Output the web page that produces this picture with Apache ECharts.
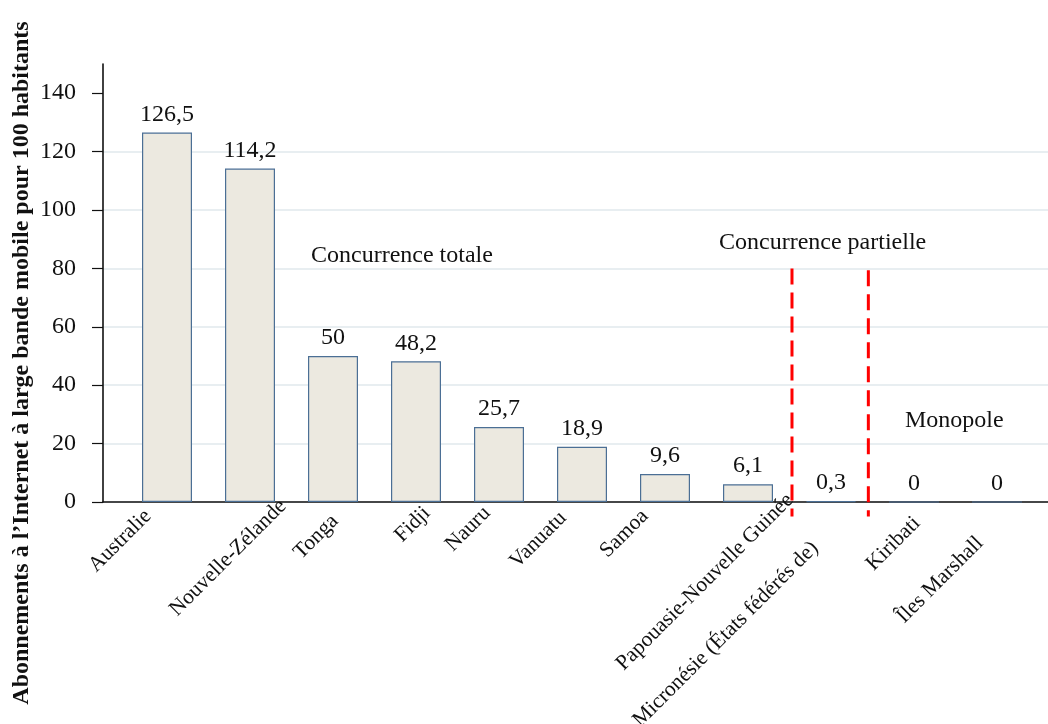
<!DOCTYPE html>
<html>
<head>
<meta charset="utf-8">
<script src="https://cdn.jsdelivr.net/npm/echarts@6/dist/echarts.min.js"></script>
<style>
html,body{margin:0;padding:0;background:#fff;}
#chart{width:1048px;height:724px;}
</style>
</head>
<body>
<div id="chart"></div>
<script>
// ---- data ----
var categories = ['Australie', 'Nouvelle-Zélande', 'Tonga', 'Fidji', 'Nauru', 'Vanuatu', 'Samoa',
  'Papouasie-Nouvelle Guinée', 'Micronésie (États fédérés de)', 'Kiribati', 'Îles Marshall'];
var values = [126.5, 114.2, 50, 48.2, 25.7, 18.9, 9.6, 6.1, 0.3, 0, 0];
var tickValues = [0, 20, 40, 60, 80, 100, 120, 140];
var dividerX = [8.03, 8.95];          // boundaries between market-structure groups (category units)
var dividerTop = [80, 79.4];
var dividerBottom = -5;
var yTitle = 'Abonnements à l’Internet à large bande mobile pour 100 habitants';
var groupNames = ['Concurrence totale', 'Concurrence partielle', 'Monopole'];

// ---- layout (label end shifts in screen px, relative to category centre on axis) ----
var labelShift = [[-19, 11], [33, 1], [2, 16], [11, 8], [-12, 8], [-19, 13], [-20, 11],
  [42, -5], [-16, 43], [3, 18], [-17, 38]];

var FONT = '"Liberation Serif", "Times New Roman", serif';
var chart = echarts.init(document.getElementById('chart'), null, {renderer: 'canvas'});

function fmt(v) { return String(v).replace('.', ','); }

var gridColor = '#e8eef1';
var splitColors = [gridColor, gridColor, gridColor, gridColor, gridColor, gridColor, gridColor,
  'rgba(0,0,0,0)', 'rgba(0,0,0,0)'];

var labelData = categories.map(function (c, i) {
  var dx = labelShift[i][0], dy = labelShift[i][1];
  var k = Math.SQRT1_2;
  return {
    value: [i, 0],
    label: {offset: [k * (dx - dy), k * (dx + dy)]}
  };
});

var option = {
  backgroundColor: '#ffffff',
  animation: false,
  grid: [
    {left: 103, right: 0, top: 64, height: 438, outerBoundsMode: 'none', containLabel: false},
    {left: 125.5, width: 913, top: 64, height: 438, outerBoundsMode: 'none', containLabel: false}
  ],
  xAxis: [
    {gridIndex: 0, type: 'value', min: 0, max: 1, axisLine: {show: true, onZero: false, lineStyle: {color: '#111', width: 1.6}},
      axisTick: {show: false}, axisLabel: {show: false}, splitLine: {show: false}},
    {gridIndex: 1, type: 'category', data: categories, boundaryGap: true,
      axisLine: {show: false}, axisTick: {show: false}, axisLabel: {show: false}, splitLine: {show: false}},
    {gridIndex: 1, type: 'value', min: 0, max: 11, show: false}
  ],
  yAxis: [
    {gridIndex: 0, type: 'value', min: 0, max: 150, interval: 20,
      axisLine: {show: true, lineStyle: {color: '#111', width: 1.6}},
      axisTick: {show: true, length: 11, customValues: tickValues, lineStyle: {color: '#111', width: 1.2}},
      axisLabel: {show: true, margin: 27, customValues: tickValues, color: '#111', fontFamily: FONT, fontSize: 24},
      splitLine: {show: true, lineStyle: {color: splitColors, width: 2}}},
    {gridIndex: 1, type: 'value', min: 0, max: 150, show: false}
  ],
  series: [
    {
      type: 'bar', xAxisIndex: 1, yAxisIndex: 1, data: values, barWidth: 50,
      itemStyle: {color: '#ece9e0', borderColor: '#4b6f95', borderWidth: 1.2},
      label: {show: true, position: 'top', distance: 6, color: '#111', fontFamily: FONT, fontSize: 24,
        formatter: function (p) { return fmt(p.value); }},
      silent: true, z: 3
    },
    {
      type: 'scatter', xAxisIndex: 1, yAxisIndex: 1, data: labelData, symbolSize: 0, silent: true, clip: false,
      itemStyle: {opacity: 1}, emphasis: {disabled: true},
      label: {show: true, position: 'inside', align: 'right', verticalAlign: 'middle', rotate: 45,
        color: '#111', opacity: 1, fontFamily: FONT, fontSize: 21.5,
        formatter: function (p) { return categories[p.dataIndex]; }},
      z: 4
    },
    {
      type: 'line', xAxisIndex: 2, yAxisIndex: 1, clip: false, symbol: 'none', silent: true,
      data: [[dividerX[0], dividerTop[0]], [dividerX[0], dividerBottom]],
      lineStyle: {color: '#ff0000', width: 3, type: [16, 8]}, z: 5
    },
    {
      type: 'line', xAxisIndex: 2, yAxisIndex: 1, clip: false, symbol: 'none', silent: true,
      data: [[dividerX[1], dividerTop[1]], [dividerX[1], dividerBottom]],
      lineStyle: {color: '#ff0000', width: 3, type: [16, 8]}, z: 5
    }
  ],
  graphic: [
    {type: 'text', x: 22, y: 363, rotation: Math.PI / 2,
      style: {text: yTitle, font: 'bold 24px ' + FONT, fill: '#111', align: 'center', verticalAlign: 'middle'}},
    {type: 'text', x: 311, y: 256,
      style: {text: groupNames[0], font: '24px ' + FONT, fill: '#111', align: 'left', verticalAlign: 'middle'}},
    {type: 'text', x: 719, y: 242.5,
      style: {text: groupNames[1], font: '24px ' + FONT, fill: '#111', align: 'left', verticalAlign: 'middle'}},
    {type: 'text', x: 905, y: 421,
      style: {text: groupNames[2], font: '24px ' + FONT, fill: '#111', align: 'left', verticalAlign: 'middle'}}
  ]
};
chart.setOption(option);
</script>
</body>
</html>
